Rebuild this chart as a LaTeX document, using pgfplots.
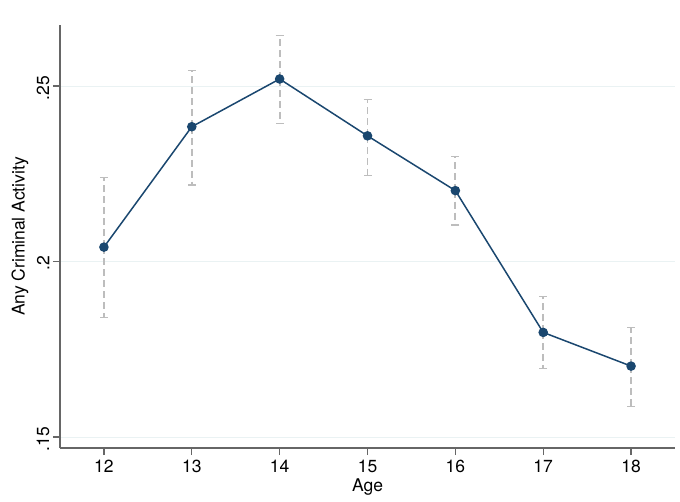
\documentclass[border=0pt]{standalone}
\usepackage{pgfplots}
\pgfplotsset{compat=1.18}
\usepackage{pgfplotstable}
\usepackage{fontspec}
\setmainfont{TeX Gyre Heros}

\definecolor{stnavy}{HTML}{1A476F}
\definecolor{errgray}{HTML}{BDBDBD}
\definecolor{gridc}{HTML}{EAF2F3}
\definecolor{axgray}{HTML}{666666}

% age, estimate, upper and lower distance to the 95% bounds
\pgfplotstableread{
age  est     ep      em
12   0.2041  0.0199  0.0201
13   0.2384  0.0160  0.0166
14   0.2520  0.0124  0.0127
15   0.2358  0.0104  0.0112
16   0.2202  0.0097  0.0098
17   0.1798  0.0102  0.0103
18   0.1702  0.0109  0.0114
}\crimedata

\begin{document}
\begin{tikzpicture}
\useasboundingbox (-60pt,-53pt) rectangle (620pt,448pt);
\begin{axis}[
  scale only axis,
  width=615pt, height=423pt,
  xmin=11.5, xmax=18.5,
  ymin=0.14687, ymax=0.26738,
  axis x line*=bottom, axis y line*=left,
  axis line style={color=axgray, line width=1.2pt},
  xtick={12,13,14,15,16,17,18},
  ytick={0.15,0.2,0.25},
  yticklabels={.15,.2,.25},
  /pgf/number format/assume math mode=true,
  tick align=outside,
  major tick length=7pt,
  tick style={color=axgray, line width=1.2pt},
  ymajorgrids,
  grid style={color=gridc, line width=1pt},
  tick label style={font=\fontsize{17.5}{20}\selectfont},
  label style={font=\fontsize{17.5}{20}\selectfont},
  xticklabel style={anchor=north, yshift=-2pt},
  yticklabel style={rotate=90, anchor=south, xshift=-2pt},
  xlabel={Age},
  ylabel={Any Criminal Activity},
  xlabel style={at={(axis description cs:0.5,-0.0922)}, anchor=center},
  ylabel style={at={(axis description cs:-0.065,0.5)}, anchor=center, rotate=0},
  clip=false,
]
% confidence intervals, drawn first so the line sits on top
\addplot[only marks, mark=none,
  error bars/.cd,
    y dir=both, y explicit,
    error bar style={color=errgray, line width=1.8pt, dash pattern=on 7pt off 4pt},
    error mark options={color=errgray, line width=1.2pt, solid, mark size=4pt, rotate=90}]
  table[x=age, y=est, y error plus=ep, y error minus=em] {\crimedata};
% point estimates
\addplot[color=stnavy, line width=1.5pt, mark=*, mark size=4pt,
  mark options={solid, fill=stnavy, draw=stnavy}]
  table[x=age, y=est] {\crimedata};
\end{axis}
\end{tikzpicture}
\end{document}
